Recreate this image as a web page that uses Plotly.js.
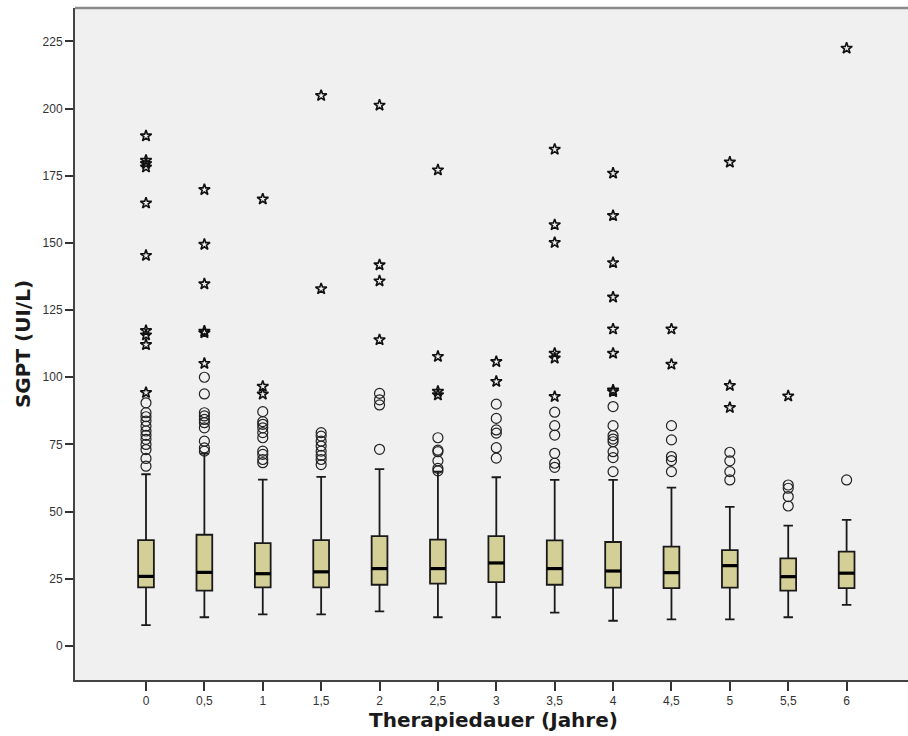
<!DOCTYPE html>
<html>
<head>
<meta charset="utf-8">
<script src="https://cdn.plot.ly/plotly-3.0.1.min.js"></script>
<style>
html, body { margin: 0; padding: 0; overflow: hidden; background: #ffffff; }
#chart { width: 912px; height: 736px; }
</style>
</head>
<body>
<div id="chart"></div>
<script>
// Categories (Therapiedauer in Jahren)
const categories = ['0', '0,5', '1', '1,5', '2', '2,5', '3', '3,5', '4', '4,5', '5', '5,5', '6'];

// Box statistics (SGPT UI/L)
const q1         = [21.8, 20.6, 21.8, 21.8, 22.8, 23.2, 23.8, 22.8, 21.7, 21.5, 21.7, 20.6, 21.5];
const medians    = [25.9, 27.4, 26.9, 27.6, 28.8, 28.8, 30.9, 28.8, 27.9, 27.3, 29.9, 25.8, 27.1];
const q3         = [39.4, 41.4, 38.3, 39.4, 40.9, 39.6, 40.9, 39.3, 38.7, 37.0, 35.7, 32.6, 35.1];
const lowerFence = [7.8, 10.7, 11.8, 11.8, 12.9, 10.7, 10.7, 12.4, 9.4, 9.9, 9.9, 10.7, 15.3];
const upperFence = [63.9, 71.6, 61.9, 62.9, 65.8, 64.9, 62.8, 61.8, 61.8, 58.9, 51.8, 44.8, 46.9];

// Mild outliers (circles), one list per category
const mildOutliers = [
  [66.9, 69.8, 73.1, 75.0, 76.9, 78.4, 80.0, 81.8, 83.7, 85.3, 86.8, 90.5],
  [72.5, 73.7, 76.2, 81.2, 83.1, 84.3, 85.6, 86.8, 93.8, 100.0],
  [68.2, 69.4, 71.3, 72.5, 77.5, 79.4, 81.2, 82.5, 83.5, 87.2],
  [67.5, 69.4, 70.9, 72.5, 74.4, 76.2, 78.1, 79.4],
  [73.2, 89.7, 91.6, 94.0],
  [65.2, 66.1, 68.9, 72.3, 72.9, 77.5],
  [69.9, 73.8, 79.2, 80.4, 84.7, 90.0],
  [66.5, 68.0, 71.7, 78.5, 82.0, 87.0],
  [64.9, 70.1, 72.3, 76.0, 77.0, 78.3, 82.0, 89.1],
  [64.9, 69.0, 70.5, 76.7, 82.0],
  [61.8, 64.9, 68.9, 72.1],
  [52.1, 55.6, 58.7, 59.9],
  [61.8]
];

// Extreme outliers (stars), one list per category
const extremeOutliers = [
  [94.3, 112.1, 115.7, 117.3, 145.3, 164.8, 178.2, 179.5, 180.7, 189.8],
  [105.1, 116.5, 117.1, 134.7, 149.4, 169.8],
  [93.7, 96.6, 166.3],
  [132.9, 204.8],
  [113.9, 135.8, 141.8, 201.2],
  [93.4, 94.7, 107.7, 177.1],
  [98.4, 105.8],
  [92.8, 107.1, 108.9, 150.1, 156.7, 184.8],
  [94.6, 95.2, 108.9, 117.9, 129.8, 142.6, 160.1, 175.9],
  [104.8, 117.9],
  [88.7, 96.9, 180.0],
  [93.0],
  [222.4]
];

const yTicks = [0, 25, 50, 75, 100, 125, 150, 175, 200, 225];

const idx = categories.map((c, i) => i);
const boxWidth = 0.27;
const boxFill = '#d4cf97';

const boxTrace = {
  type: 'box',
  x: idx,
  q1: q1,
  median: medians,
  q3: q3,
  lowerfence: lowerFence,
  upperfence: upperFence,
  width: boxWidth,
  whiskerwidth: 0.6,
  fillcolor: boxFill,
  line: { color: '#1a1a1a', width: 1.8 },
  boxpoints: false,
  hoverinfo: 'skip'
};

// thick median lines drawn over the boxes
const mx = [], my = [];
idx.forEach((i) => {
  mx.push(i - boxWidth / 2, i + boxWidth / 2, null);
  my.push(medians[i], medians[i], null);
});
const medianTrace = {
  type: 'scatter', mode: 'lines', x: mx, y: my,
  line: { color: '#000000', width: 3.2 }, hoverinfo: 'skip'
};

const cx = [], cy = [];
mildOutliers.forEach((arr, i) => arr.forEach(v => { cx.push(i); cy.push(v); }));
const circleTrace = {
  type: 'scatter', mode: 'markers', x: cx, y: cy,
  marker: { symbol: 'circle-open', size: 10, color: '#222222', line: { width: 1.2, color: '#222222' } },
  hoverinfo: 'skip'
};

const sx = [], sy = [];
extremeOutliers.forEach((arr, i) => arr.forEach(v => { sx.push(i); sy.push(v); }));
const starTrace = {
  type: 'scatter', mode: 'markers', x: sx, y: sy,
  marker: { symbol: 'star-open', size: 8.5, color: '#111111', line: { width: 1.6, color: '#111111' } },
  hoverinfo: 'skip'
};

const titleFont = { family: 'DejaVu Sans, Verdana, sans-serif', size: 20, color: '#1a1a1a', weight: 'bold' };

const layout = {
  width: 912,
  height: 736,
  margin: { l: 75, r: 0, t: 8, b: 56 },
  paper_bgcolor: '#ffffff',
  plot_bgcolor: '#f0f0f0',
  showlegend: false,
  hovermode: false,
  font: { family: 'Liberation Sans, Arial, sans-serif', color: '#333333', size: 12 },
  xaxis: {
    range: [-1.216, 13.12],
    tickmode: 'array',
    tickvals: idx,
    ticktext: categories,
    ticks: 'outside',
    ticklen: 9,
    tickwidth: 2,
    tickcolor: '#333333',
    showline: true,
    linecolor: '#444444',
    linewidth: 2,
    showgrid: false,
    zeroline: false,
    tickfont: { size: 12, color: '#333333' },
    title: { text: 'Therapiedauer (Jahre)', font: titleFont, standoff: 5 }
  },
  yaxis: {
    range: [-12.65, 237.4],
    tickmode: 'array',
    tickvals: yTicks,
    ticktext: yTicks.map(String),
    ticks: 'outside',
    ticklen: 8,
    tickwidth: 2,
    tickcolor: '#333333',
    showline: true,
    linecolor: '#444444',
    linewidth: 2,
    showgrid: false,
    zeroline: false,
    tickfont: { size: 12, color: '#333333' },
    title: { text: 'SGPT (UI/L)', font: titleFont, standoff: 7 }
  },
  shapes: [
    { type: 'line', xref: 'paper', yref: 'paper', x0: 0, x1: 1, y0: 1, y1: 1, line: { color: '#8a8a8a', width: 2.5 } }
  ]
};

Plotly.newPlot('chart', [boxTrace, medianTrace, circleTrace, starTrace], layout, { displayModeBar: false, staticPlot: true });
</script>
</body>
</html>
